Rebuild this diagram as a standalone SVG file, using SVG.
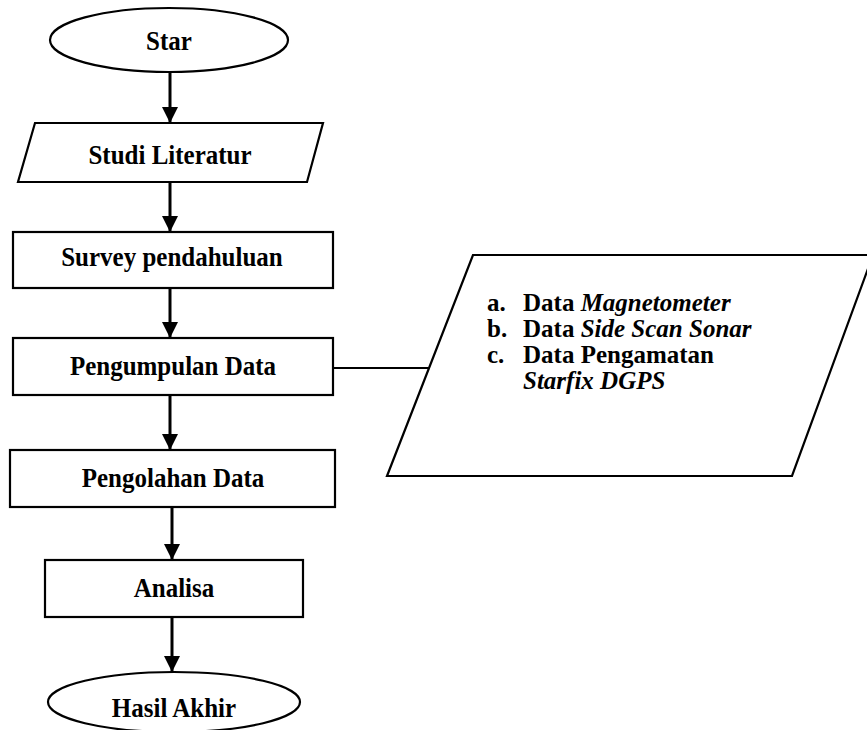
<svg xmlns="http://www.w3.org/2000/svg" width="867" height="730" viewBox="0 0 867 730">
<defs>
<style>
.shape{fill:#fff;stroke:#000;stroke-width:2.2}
.lbl{font-family:"Liberation Serif","Times New Roman",serif;font-size:25px;font-weight:bold;fill:#000}
.c{text-anchor:middle}
.it{font-style:italic}
.conn{stroke:#000;stroke-width:3;fill:none}
.thin{stroke:#000;stroke-width:2;fill:none}
</style>
<marker id="ah" markerWidth="20" markerHeight="16" refX="16" refY="8" orient="auto" markerUnits="userSpaceOnUse">
<path d="M0,0 L16,8 L0,16 Z" fill="#000"/>
</marker>
</defs>
<rect width="867" height="730" fill="#fff"/>
<g id="connectors">
<line class="conn" x1="170" y1="72" x2="170" y2="123" marker-end="url(#ah)"/>
<line class="conn" x1="170" y1="182" x2="170" y2="232" marker-end="url(#ah)"/>
<line class="conn" x1="170" y1="288" x2="170" y2="338" marker-end="url(#ah)"/>
<line class="conn" x1="170" y1="395" x2="170" y2="450" marker-end="url(#ah)"/>
<line class="conn" x1="172" y1="507" x2="172" y2="560" marker-end="url(#ah)"/>
<line class="conn" x1="172" y1="617" x2="172" y2="672" marker-end="url(#ah)"/>
<line class="thin" x1="333" y1="368" x2="430" y2="368"/>
</g>
<g id="star">
<ellipse class="shape" cx="169" cy="40" rx="119" ry="32"/>
<text class="lbl c" x="169" y="50" transform="matrix(1,0,0,1.12,0,-6)">Star</text>
</g>
<g id="studi">
<polygon class="shape" points="35,123 323,123 307,182 18,182"/>
<text class="lbl c" x="170" y="164" transform="matrix(1,0,0,1.12,0,-19.68)">Studi Literatur</text>
</g>
<g id="survey">
<rect class="shape" x="13" y="232" width="320" height="56"/>
<text class="lbl c" x="172" y="266" transform="matrix(1,0,0,1.12,0,-31.92)">Survey pendahuluan</text>
</g>
<g id="pengumpulan">
<rect class="shape" x="13" y="338" width="320" height="57"/>
<text class="lbl c" x="173" y="375" transform="matrix(1,0,0,1.12,0,-45)">Pengumpulan Data</text>
</g>
<g id="pengolahan">
<rect class="shape" x="10" y="450" width="325" height="57"/>
<text class="lbl c" x="173" y="487" transform="matrix(1,0,0,1.12,0,-58.44)">Pengolahan Data</text>
</g>
<g id="analisa">
<rect class="shape" x="45" y="560" width="258" height="57"/>
<text class="lbl c" x="174" y="597" transform="matrix(1,0,0,1.12,0,-71.64)">Analisa</text>
</g>
<g id="hasil">
<ellipse class="shape" cx="174" cy="702" rx="126" ry="30"/>
<text class="lbl c" x="174" y="717" transform="matrix(1,0,0,1.12,0,-86.04)">Hasil Akhir</text>
</g>
<g id="data">
<polygon class="shape" points="473,255 873,255 792,476 387,476"/>
<text class="lbl" x="487" y="311">a.</text>
<text class="lbl" x="523" y="311">Data <tspan class="it">Magnetometer</tspan></text>
<text class="lbl" x="487" y="337">b.</text>
<text class="lbl" x="523" y="337">Data <tspan class="it">Side Scan Sonar</tspan></text>
<text class="lbl" x="487" y="363">c.</text>
<text class="lbl" x="523" y="363">Data Pengamatan</text>
<text class="lbl it" x="523" y="389">Starfix DGPS</text>
</g>
</svg>
